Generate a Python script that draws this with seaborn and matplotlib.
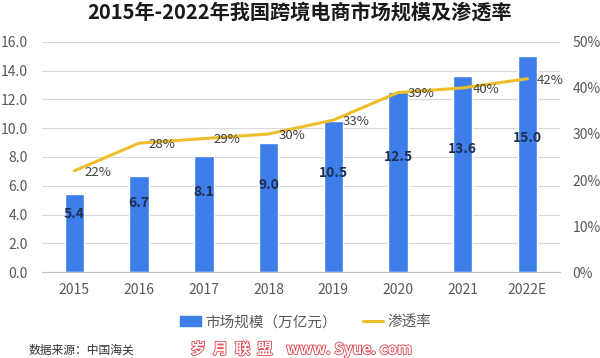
import matplotlib
matplotlib.use("Agg")
import matplotlib.pyplot as plt
import matplotlib.patheffects as pe
from matplotlib.patches import Patch
from matplotlib.lines import Line2D
from matplotlib.ticker import FuncFormatter, MultipleLocator
import seaborn as sns
import pandas as pd

# 数据
years = ["2015", "2016", "2017", "2018", "2019", "2020", "2021", "2022E"]
market_size = [5.4, 6.7, 8.1, 9.0, 10.5, 12.5, 13.6, 15.0]   # 万亿元
penetration = [22, 28, 29, 30, 33, 39, 40, 42]               # %

df = pd.DataFrame({"year": years, "size": market_size, "rate": penetration})

sns.set_style("white")
plt.rcParams["font.family"] = ["Noto Sans CJK SC", "DejaVu Sans"]

bar_color = "#3D7EEB"
line_color = "#EDBD2C"
tick_color = "#595959"

fig = plt.figure(figsize=(6, 3.58), dpi=100)
ax = fig.add_axes([0.07, 0.240, 0.863, 0.643])

sns.barplot(data=df, x="year", y="size", color=bar_color, width=0.3,
            saturation=1, ax=ax)
ax.set_ylim(0, 16)
ax.yaxis.set_major_locator(MultipleLocator(2))
ax.yaxis.set_major_formatter(FuncFormatter(lambda v, p: f"{v:.1f}"))
ax.grid(axis="y", color="#D9D9D9", linewidth=0.8)
ax.set_axisbelow(True)
ax.set_xlabel("")
ax.set_ylabel("")
ax.set_xlim(-0.5, len(years) - 0.5)
for s in ["top", "left", "right"]:
    ax.spines[s].set_visible(False)
ax.spines["bottom"].set_color("#BFBFBF")
ax.tick_params(axis="both", length=0, labelsize=10, colors=tick_color)
ax.tick_params(axis="x", pad=8)
ax.tick_params(axis="y", pad=10)

# 柱内数值
for i, v in enumerate(market_size):
    ax.text(i, v * 0.55 + 1.1, f"{v:.1f}", ha="center", va="center",
            fontsize=10, fontweight="bold", color="#1F2D4F")

# 渗透率折线
ax2 = ax.twinx()
sns.lineplot(data=df, x="year", y="rate", color=line_color, linewidth=2.2,
             sort=False, ax=ax2)
ax2.set_ylim(0, 50)
ax2.yaxis.set_major_locator(MultipleLocator(10))
ax2.yaxis.set_major_formatter(FuncFormatter(lambda v, p: f"{v:.0f}%"))
ax2.set_ylabel("")
ax2.set_xlabel("")
for s in ax2.spines.values():
    s.set_visible(False)
ax2.tick_params(axis="y", length=0, labelsize=10, colors=tick_color, pad=9)

for i, r in enumerate(penetration):
    ax2.annotate(f"{r}%", (i, r), xytext=(7, -1), textcoords="offset points",
                 ha="left", va="center", fontsize=9.5, color="#404040")

fig.suptitle("2015年-2022年我国跨境电商市场规模及渗透率", x=0.5, y=0.995,
             fontsize=14.5, fontweight="bold", color="#1A1A1A")

handles = [Patch(color=bar_color), Line2D([0], [0], color=line_color, linewidth=2.2)]
fig.legend(handles, ["市场规模（万亿元）", "渗透率"], loc="center",
           bbox_to_anchor=(0.51, 0.1), ncol=2, frameon=False, fontsize=10.5,
           handlelength=1.4, handleheight=0.6, handletextpad=0.3,
           columnspacing=1.8, labelcolor=tick_color)

fig.text(0.047, 0.022, "数据来源：中国海关", fontsize=8.5, color="#333333",
         va="center")
fig.text(0.502, 0.025, "岁  月  联  盟    www. Syue. com", fontsize=11,
         color="white", va="center", ha="center", fontweight="bold",
         path_effects=[pe.withStroke(linewidth=1.2, foreground="#E0404A")])

fig.savefig("out.png", dpi=100)
